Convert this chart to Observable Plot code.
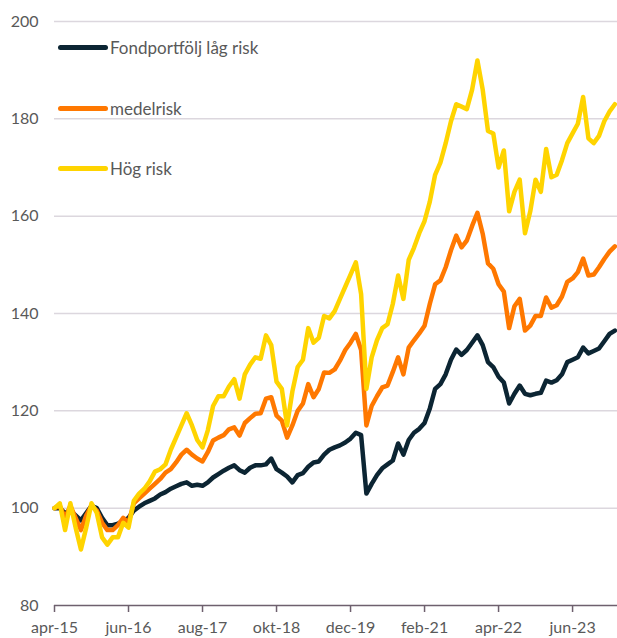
<!DOCTYPE html>
<html><head><meta charset="utf-8">
<script src="https://cdn.jsdelivr.net/npm/d3@7"></script>
<script src="https://cdn.jsdelivr.net/npm/@observablehq/plot@0.6"></script>
<style>
body{margin:0;background:#fff;}
#wrap{position:relative;width:617px;height:638px;overflow:hidden;font-family:Lato,sans-serif;}
.item{position:absolute;left:58px;display:flex;align-items:center;white-space:nowrap;font-size:17px;color:#595959;height:20px;}
.sw{width:50px;height:5px;border-radius:2.5px;margin-right:2px;}
</style></head><body><div id="wrap"></div>
<script>
// Monthly index 0 = apr-15 ... 106 = feb-24
const seriesNames = ["Fondportfölj låg risk", "medelrisk", "Hög risk"];
const seriesColors = ["#0c2533", "#ff7800", "#ffd400"];
const lowRisk = [100,100,99,99.5,98.5,97.5,99,100.5,100,98,96.5,96.5,96.8,97.4,98,99.5,100.3,101,101.5,102,102.8,103.3,104,104.5,105,105.3,104.6,104.8,104.6,105.3,106.3,107,107.7,108.3,108.8,107.8,107.3,108.3,108.8,108.8,109,110.2,108,107.3,106.5,105.3,106.8,107.2,108.5,109.4,109.6,111,112,112.5,112.9,113.5,114.3,115.5,115,103,105,106.8,108.2,109,109.8,113.3,111,114,115.5,116.3,117.5,120.5,124.5,125.5,127.5,130.5,132.6,131.5,132.5,134,135.5,133.5,130,129,127,125.8,121.5,123.5,125.2,123.5,123.2,123.5,123.7,126.2,125.8,126.3,127.5,130,130.5,131,133,131.8,132.3,132.8,134.3,135.8,136.5];
const midRisk = [100,100.5,98,100.5,98,95.5,98.5,100.5,99.5,97,95.5,95.5,96.5,98,97,101,102,103,104,105,106,107.3,108,109.4,111,112,111,110.2,109.6,111.5,113.9,114.5,115,116.2,116.6,114.9,117.5,118.5,119.4,119.5,122.5,122.8,119,118,114.5,117,120,121.5,125.5,122.8,124.5,127.9,127.8,128.5,130.3,132.5,134,135.8,132.5,117,121,123,124.8,125.2,128,131,127.5,133,134.5,135.9,137.5,142,146,146.8,149.5,153,156,153.6,155,158,160.7,156.4,150.3,149.2,146,144.5,137,141.5,143,136.5,137.5,139.5,139.5,143.3,141.2,141.7,143.5,146.5,147.2,148.5,151.3,147.8,148,149.5,151.2,152.7,153.8];
const highRisk = [100,101,95.5,101,96,91.5,96,101,99,94,92.5,94,94,97,96,101.5,103,104,105.5,107.5,108,109,112,114.5,117,119.5,117,114,112.5,116,121,123,123,125,126.5,122.5,127.5,129.5,131,130.7,135.5,133.5,126,124.5,117,124,129,130.5,137,134,135,139.5,139,140.5,143,145.5,148,150.5,144,124.5,131,134.5,137,137.8,142,147.8,143,151,153.5,156.5,159,163,168.5,171,175,179.5,183,182.5,182,186,192,186,177.5,177,170,173.5,161,165,167.5,156.5,161,167.5,165,173.8,168,168.5,171.5,175,177,179,184.5,176,175,176.5,179.5,181.5,183];
const xTickMonths = [0,14,28,42,56,70,84,98];
const xTickLabels = ["apr-15","jun-16","aug-17","okt-18","dec-19","feb-21","apr-22","jun-23"];
const yTicks = [80,100,120,140,160,180,200];

const toRows = (vals, s) => vals.map((v, i) => ({i, v, s}));
const allSeries = [lowRisk, midRisk, highRisk];

const chart = Plot.plot({
  width: 617, height: 638,
  marginLeft: 54, marginRight: 0, marginTop: 21, marginBottom: 33,
  style: {fontFamily: "Lato, sans-serif", fontSize: "16px", background: "#fff", color: "#595959"},
  x: {domain: [0, 106.5]},
  y: {domain: [80, 200]},
  color: {domain: seriesNames, range: seriesColors},
  marks: [
    Plot.gridY(yTicks.filter(t => t > 80), {stroke: "#dcd7de", strokeOpacity: 1, strokeWidth: 1.5}),
    Plot.axisY(yTicks, {tickSize: 0, tickPadding: 16, fontSize: 16, fill: "#595959", label: null}),
    Plot.ruleY([80], {stroke: "#6e606e", strokeWidth: 1.5}),
    Plot.axisX(xTickMonths, {tickSize: 7, tickPadding: 9, fontSize: 16, stroke: "#6e606e", strokeWidth: 1.5, fill: "#595959",
      tickFormat: d => xTickLabels[xTickMonths.indexOf(d)], label: null}),
    ...allSeries.map((vals, k) => Plot.line(toRows(vals, seriesNames[k]), {
      x: "i", y: "v", stroke: "s", strokeWidth: 4.5, strokeLinejoin: "round", strokeLinecap: "round"
    }))
  ]
});
const wrap = document.getElementById("wrap");
wrap.appendChild(chart);

const legendTops = [37, 98, 158];
seriesNames.forEach((name, k) => {
  const item = document.createElement("div");
  item.className = "item";
  item.style.top = legendTops[k] + "px";
  const sw = document.createElement("span");
  sw.className = "sw";
  sw.style.background = seriesColors[k];
  const t = document.createElement("span");
  t.textContent = name;
  item.appendChild(sw); item.appendChild(t);
  wrap.appendChild(item);
});
</script></body></html>
